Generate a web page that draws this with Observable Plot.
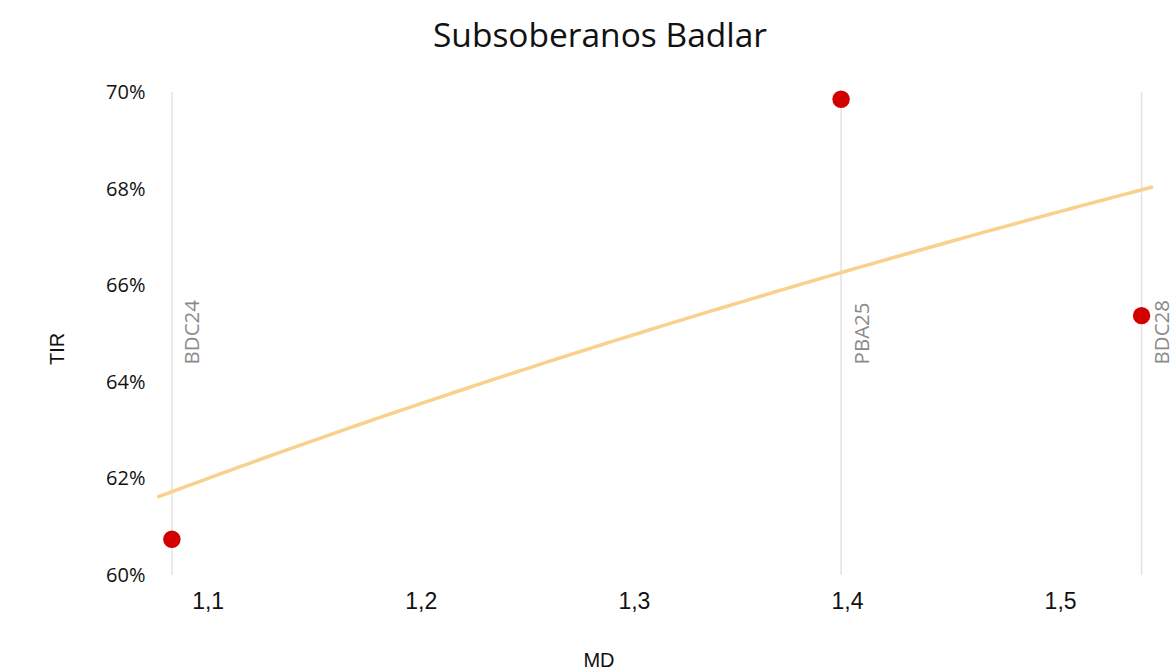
<!DOCTYPE html>
<html>
<head>
<meta charset="utf-8">
<script src="https://cdn.jsdelivr.net/npm/d3@7"></script>
<script src="https://cdn.jsdelivr.net/npm/@observablehq/plot@0.6"></script>
<style>
  html, body { margin: 0; padding: 0; background: #ffffff; }
  #title { height: 70px; line-height: 68px; text-align: center; padding-left: 24px; box-sizing: border-box; font-family: "Open Sans", sans-serif; font-size: 33.5px; color: #111; }
  #chart svg { display: block; }
</style>
</head>
<body>
<div id="title">Subsoberanos Badlar</div>
<div id="chart"></div>
<script>
// Data
const bonds = ["BDC24", "PBA25", "BDC28"];
const md = [1.083, 1.397, 1.538];
const tir = [60.75, 69.86, 65.38];
const trendExtent = [1.0768, 1.5427]; // drawn span of the trendline
const xTicks = [1.1, 1.2, 1.3, 1.4, 1.5];
const yTicks = [60, 62, 64, 66, 68, 70];

const points = bonds.map((b, i) => ({bond: b, md: md[i], tir: tir[i]}));

// Logarithmic trendline (least squares of TIR on ln(MD)), as in the source chart
const lx = md.map(Math.log);
const mx = d3.mean(lx), my = d3.mean(tir);
const slope = d3.sum(lx, (v, i) => (v - mx) * (tir[i] - my)) / d3.sum(lx, v => (v - mx) ** 2);
const intercept = my - slope * mx;
const trend = d3.ticks(trendExtent[0], trendExtent[1], 80)
  .concat(trendExtent).sort(d3.ascending)
  .map(m => ({md: m, tir: intercept + slope * Math.log(m)}));

const labelTir = 64.37;
const fmtX = d => d3.format(".1f")(d).replace(".", ",");
const fmtY = d => d + "%";

const chart = Plot.plot({
  width: 1176,
  height: 600,
  marginTop: 22,
  marginBottom: 95,
  marginLeft: 165,
  marginRight: 20,
  style: {background: "transparent", overflow: "visible"},
  x: {domain: [1.08, 1.545]},
  y: {domain: [60, 70]},
  marks: [
    Plot.ruleX(points, {x: "md", stroke: "#e3e3e3", strokeWidth: 1.5}),
    Plot.line(trend, {x: "md", y: "tir", stroke: "#f8d18c", strokeWidth: 3.5, clip: false}),
    Plot.dot(points, {x: "md", y: "tir", r: 8.7, fill: "#d20000", stroke: "none"}),
    Plot.text(points, {x: "md", y: () => labelTir, text: "bond", rotate: -90, textAnchor: "start",
      dx: 21, fill: "#8a8a8a", fontSize: 20.5, fontFamily: "Open Sans, sans-serif"}),
    Plot.axisY({ticks: yTicks, tickFormat: fmtY, tickSize: 0, tickPadding: 20, label: null,
      fontSize: 20, fontFamily: "Open Sans, sans-serif", fill: "#111"}),
    Plot.axisX({ticks: xTicks, tickFormat: fmtX, tickSize: 0, tickPadding: 17, label: null,
      fontSize: 23, fontFamily: "Liberation Sans, Arial, sans-serif", fill: "#111"}),
    Plot.text(["TIR"], {frameAnchor: "left", dx: 57 - 165, dy: 31, rotate: -90, text: d => d,
      fontSize: 20, fontFamily: "Liberation Sans, Arial, sans-serif", fill: "#111"}),
    Plot.text(["MD"], {frameAnchor: "bottom", dx: -62, dy: 91, text: d => d,
      fontSize: 20, fontFamily: "Liberation Sans, Arial, sans-serif", fill: "#111"})
  ]
});
document.getElementById("chart").appendChild(chart);
</script>
</body>
</html>
